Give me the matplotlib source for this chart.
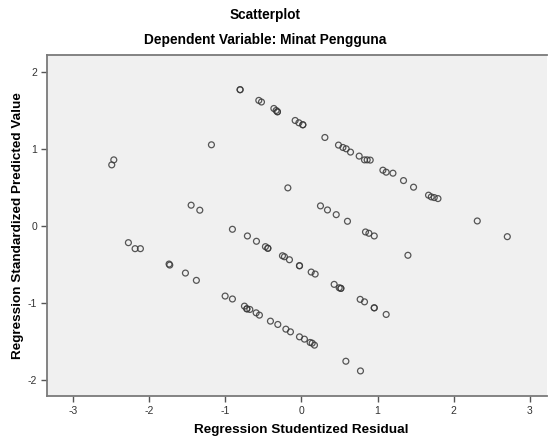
import matplotlib
matplotlib.use('Agg')
import matplotlib.pyplot as plt

plt.rcParams['font.family'] = ['Liberation Sans', 'DejaVu Sans']
plt.rcParams['axes.unicode_minus'] = False

# studentized residual (x) vs standardized predicted value (y)
resid = [-0.807, -0.807, -0.561, -0.526, -0.363, -0.333, -0.316, -0.316,
         -0.083, -0.034, 0.018, 0.018, 0.308, 0.487, 0.545, 0.588, 0.645,
         0.759, 0.829, 0.864, 0.904, 1.071, 1.114, 1.203, 1.342, 1.474,
         1.671, 1.707, 1.746, 1.795, 2.312, 2.707,
         -2.495, -2.468, -1.184, -1.451, -1.337, -0.179,
         0.250, 0.342, 0.457, 0.605, 0.842, 0.887, 0.957, 1.400,
         -2.276, -2.188, -2.118, -1.741, -1.732, -1.526, -1.382,
         -0.908, -0.711, -0.592, -0.474, -0.442, -0.442, -0.250, -0.224,
         -0.158, -0.026, -0.026, 0.128, 0.180, 0.430, 0.496, 0.518, 0.518,
         0.772, 0.829, 0.957, 0.957, 1.114,
         -1.004, -0.908, -0.750, -0.718, -0.718, -0.679, -0.596, -0.553,
         -0.408, -0.311, -0.205, -0.145, -0.026, 0.039, 0.114, 0.141,
         0.171, 0.584, 0.776]
pred = [1.767, 1.767, 1.628, 1.607, 1.523, 1.497, 1.480, 1.480,
        1.367, 1.337, 1.311, 1.311, 1.146, 1.047, 1.016, 0.999, 0.956,
        0.904, 0.855, 0.855, 0.852, 0.721, 0.695, 0.682, 0.586, 0.500,
        0.396, 0.374, 0.365, 0.352, 0.061, -0.143,
        0.790, 0.855, 1.051, 0.266, 0.201, 0.491,
        0.257, 0.204, 0.143, 0.057, -0.082, -0.099, -0.134, -0.385,
        -0.221, -0.299, -0.299, -0.499, -0.512, -0.616, -0.711,
        -0.047, -0.134, -0.203, -0.273, -0.294, -0.294, -0.391, -0.404,
        -0.443, -0.521, -0.521, -0.603, -0.629, -0.763, -0.807, -0.815, -0.815,
        -0.958, -0.990, -1.068, -1.068, -1.154,
        -0.915, -0.953, -1.046, -1.081, -1.081, -1.089, -1.133, -1.163,
        -1.241, -1.284, -1.345, -1.380, -1.445, -1.475, -1.518, -1.527,
        -1.553, -1.762, -1.888]

xticks = [-3, -2, -1, 0, 1, 2, 3]
yticks = [-2, -1, 0, 1, 2]

fig = plt.figure(figsize=(5.49, 4.37), dpi=100)
ax = fig.add_axes([0.0865, 0.0945, 0.91, 0.78])
ax.set_facecolor('#f0f0f0')

ax.scatter(resid, pred, s=18, facecolors='none', edgecolors='#3a3a3a',
           linewidths=0.9, alpha=0.85)

ax.set_xlim(-3.34, 3.23)
ax.set_ylim(-2.21, 2.22)
ax.set_xticks(xticks)
ax.set_yticks(yticks)
ax.tick_params(direction='out', length=4, width=1, colors='#555555',
               labelsize=7.5, labelcolor='#333333')

for side in ['left', 'top', 'bottom']:
    ax.spines[side].set_color('#7a7a7a')
    ax.spines[side].set_linewidth(1.3)
ax.spines['right'].set_visible(False)

# axis titles placed by hand so they sit where the reference has them
fig.text(0.549, 0.016, 'Regression Studentized Residual', ha='center',
         va='center', fontsize=9.7, fontweight='bold')
fig.text(0.033, 0.484, 'Regression Standardized Predicted Value', ha='center',
         va='center', rotation=90, fontsize=9.7, fontweight='bold')

fig.text(0.483, 0.965, 'Scatterplot', ha='center', va='center',
         fontsize=9.8, fontweight='bold')
fig.text(0.483, 0.908, 'Dependent Variable: Minat Pengguna', ha='center',
         va='center', fontsize=9.9, fontweight='bold')

fig.savefig('out.png', dpi=100)
